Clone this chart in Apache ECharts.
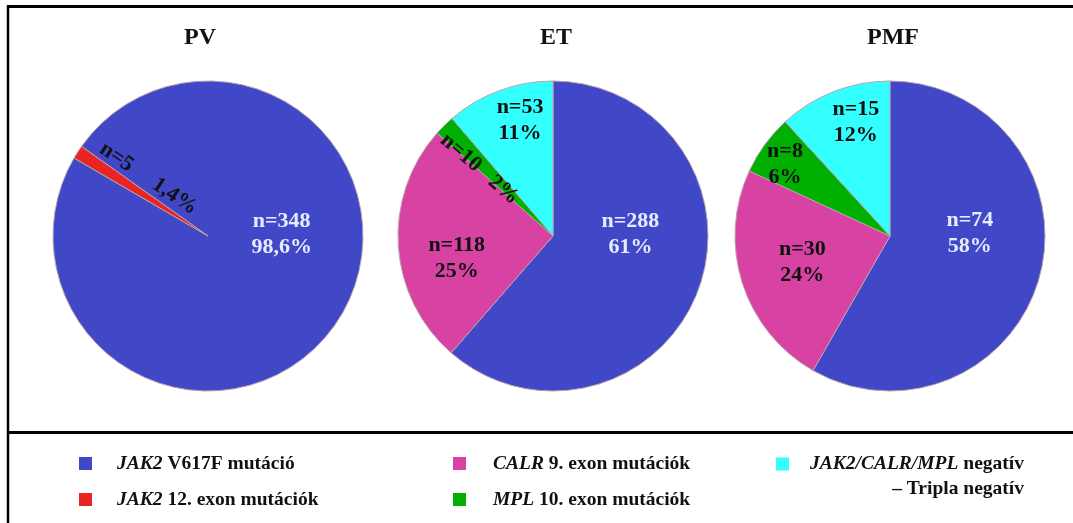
<!DOCTYPE html>
<html>
<head>
<meta charset="utf-8">
<script src="https://cdn.jsdelivr.net/npm/echarts@6/dist/echarts.min.js"></script>
<style>
  html, body { margin: 0; padding: 0; background: #ffffff; }
  #chart { width: 1073px; height: 523px; }
</style>
</head>
<body>
<div id="chart"></div>
<script>
// Mutation categories, in legend order
const categories = [
  'JAK2 V617F mutáció',
  'JAK2 12. exon mutációk',
  'CALR 9. exon mutációk',
  'MPL 10. exon mutációk',
  'JAK2/CALR/MPL negatív – Tripla negatív'
];
const panelTitles = ['PV', 'ET', 'PMF'];

// Patient counts per group, slices listed clockwise
const pvCategories = [categories[0], categories[1]];
const pvCounts = [348, 5];
const etCategories = [categories[0], categories[2], categories[3], categories[4]];
const etCounts = [288, 118, 10, 53];
const pmfCategories = [categories[0], categories[2], categories[3], categories[4]];
const pmfCounts = [74, 30, 8, 15];

// Decimal places shown for the percentages of each group
const percentDecimals = [1, 0, 0];

// ---- styling ----
const sliceColors = ['#4048C8', '#E82424', '#D842A2', '#00B000', '#33FFFF'];
const labelColors = ['#E6ECFF', '#111111', '#111111', '#111111', '#111111'];
const serif = '"Liberation Serif", "Times New Roman", serif';

const pies = [
  { cats: pvCategories, counts: pvCounts, center: [208, 236], startAngle: 144.7, titleX: 200 },
  { cats: etCategories, counts: etCounts, center: [553, 236], startAngle: 90, titleX: 556 },
  { cats: pmfCategories, counts: pmfCounts, center: [890, 236], startAngle: 90, titleX: 893 }
];

// Label nudges (pixels) relative to the default inside position; some labels run along the slice
const labelPlacement = [
  [{ dx: 6, dy: -45 }, { dx: -1, dy: -16, rotate: -34, gap: '     ' }],
  [{ dx: 2, dy: -30 }, { dx: -16, dy: 17 }, { dx: -19, dy: 4, rotate: -41, gap: '   ' }, { dx: -5, dy: -40 }],
  [{ dx: 2, dy: -23 }, { dx: -11, dy: 2 }, { dx: -40, dy: -24 }, { dx: -5, dy: -39 }]
];

function makePie(i) {
  const p = pies[i];
  const place = labelPlacement[i];
  return {
    type: 'pie',
    center: p.center,
    radius: 155,
    startAngle: p.startAngle,
    clockwise: true,
    silent: true,
    animation: false,
    avoidLabelOverlap: false,
    data: p.cats.map((c, k) => {
      const ci = categories.indexOf(c);
      return {
        name: c,
        value: p.counts[k],
        itemStyle: { color: sliceColors[ci] },
        label: { color: labelColors[ci], rotate: place[k].rotate || 0 }
      };
    }),
    itemStyle: { borderColor: '#b8a2ac', borderWidth: 1 },
    label: {
      show: true,
      position: 'inside',
      fontFamily: serif,
      fontWeight: 'bold',
      fontSize: 22,
      lineHeight: 26,
      align: 'center',
      formatter: (q) => {
        const pct = q.percent.toFixed(percentDecimals[i]).replace('.', ',') + '%';
        const sep = place[q.dataIndex].gap || '\n';
        return 'n=' + q.value + sep + pct;
      }
    },
    labelLine: { show: false },
    labelLayout: (q) => ({ dx: place[q.dataIndex].dx, dy: place[q.dataIndex].dy }),
    emphasis: { disabled: true }
  };
}

// Legend text: gene names in italics, the triple-negative entry on two lines
function legendText(name) {
  const sp = name.indexOf(' ');
  const gene = name.slice(0, sp);
  let rest = name.slice(sp);
  if (rest.indexOf(' – ') >= 0) {
    const parts = rest.split(' – ');
    return '\n{i|' + gene + '}' + parts[0] + '\n{r|– ' + parts[1] + '}';
  }
  return '{i|' + gene + '}' + rest;
}

const legendBase = {
  orient: 'vertical',
  icon: 'rect',
  itemWidth: 13,
  itemHeight: 13,
  itemStyle: { borderWidth: 0 },
  selectedMode: false,
  padding: 0,
  formatter: legendText
};
function legendStyle(padLeft, lineHeight) {
  const fs = 19.5;
  return {
    fontFamily: serif,
    fontWeight: 'bold',
    fontSize: fs,
    color: '#111111',
    lineHeight: lineHeight,
    padding: [0, 0, 0, padLeft],
    rich: {
      i: { fontFamily: serif, fontWeight: 'bold', fontStyle: 'italic', fontSize: fs, color: '#111111', lineHeight: lineHeight },
      r: { fontFamily: serif, fontWeight: 'bold', fontSize: fs, color: '#111111', lineHeight: lineHeight, align: 'right' }
    }
  };
}

const option = {
  backgroundColor: '#ffffff',
  animation: false,
  title: pies.map((p, i) => ({
    text: panelTitles[i],
    left: p.titleX,
    top: 26,
    padding: 0,
    textAlign: 'center',
    textStyle: { fontFamily: serif, fontWeight: 'bold', fontSize: 24, color: '#111111' }
  })),
  legend: [
    Object.assign({}, legendBase, { left: 79, top: 452.5, itemGap: 14, data: [categories[0], categories[1]], textStyle: legendStyle(20, 22) }),
    Object.assign({}, legendBase, { left: 453, top: 452.5, itemGap: 14, data: [categories[2], categories[3]], textStyle: legendStyle(22, 22) }),
    Object.assign({}, legendBase, { left: 776, top: 426.5, itemGap: 14, data: [categories[4]], textStyle: legendStyle(16, 25) })
  ],
  graphic: [
    { type: 'line', silent: true, shape: { x1: 7, y1: 6.5, x2: 1073, y2: 6.5 }, style: { stroke: '#000', lineWidth: 3 } },
    { type: 'line', silent: true, shape: { x1: 8, y1: 5, x2: 8, y2: 523 }, style: { stroke: '#000', lineWidth: 2.5 } },
    { type: 'line', silent: true, shape: { x1: 8, y1: 432.5, x2: 1073, y2: 432.5 }, style: { stroke: '#000', lineWidth: 3 } }
  ],
  series: pies.map((p, i) => makePie(i))
};

const chart = echarts.init(document.getElementById('chart'), null, { renderer: 'canvas' });
chart.setOption(option);
</script>
</body>
</html>
